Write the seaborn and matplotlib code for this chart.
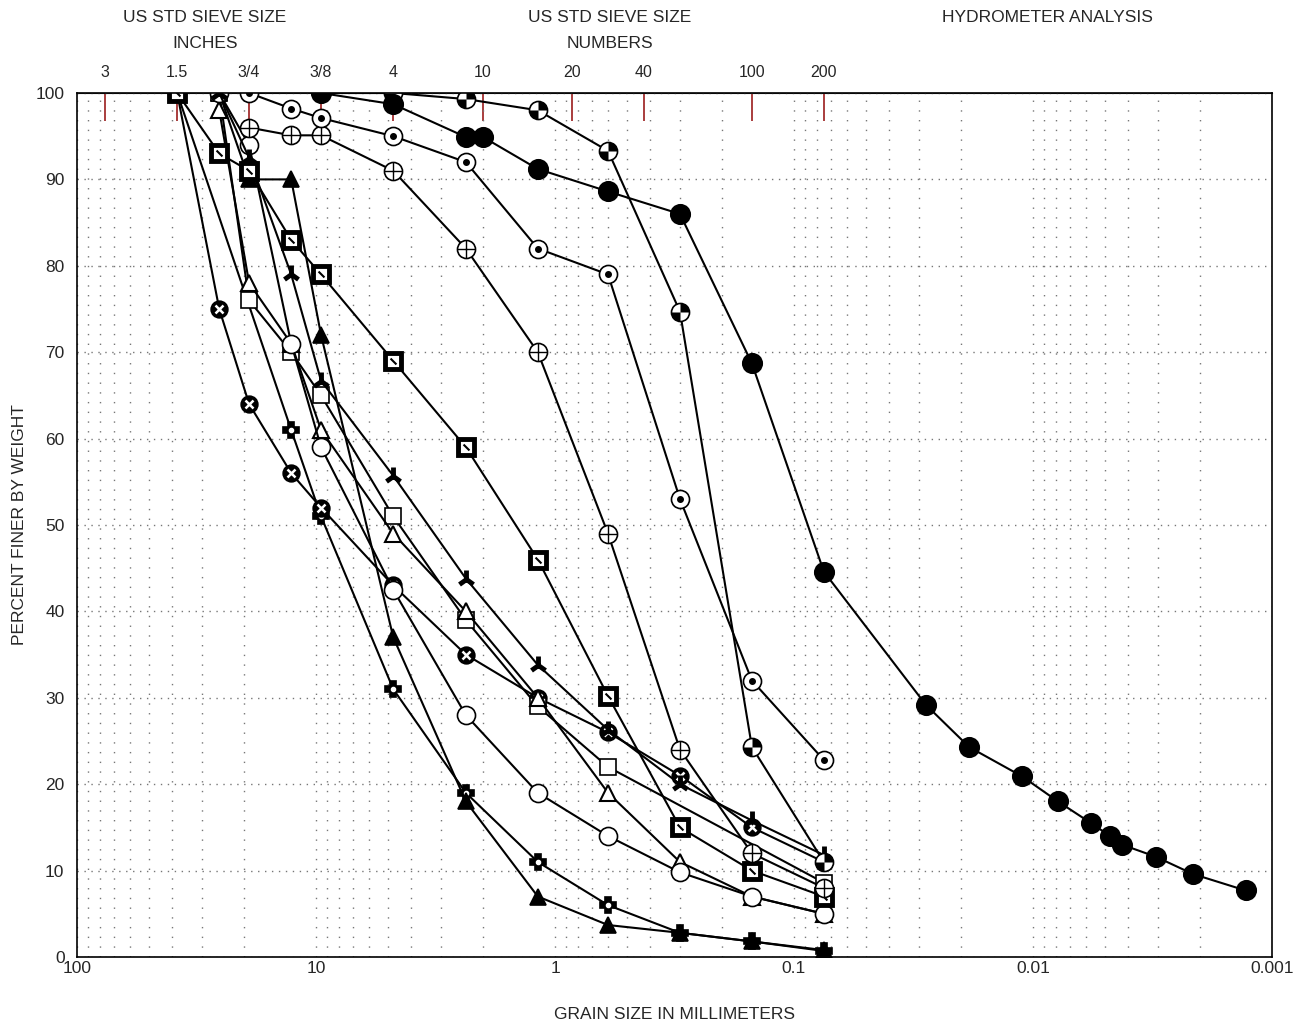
import matplotlib
matplotlib.use('Agg')
import matplotlib.pyplot as plt
from matplotlib.path import Path
from matplotlib.ticker import NullLocator, LogLocator, FixedLocator
import seaborn as sns

# sieve openings (mm) and their labels on the top axis
sieve_mm = [76.2, 38.1, 19.05, 9.525, 4.75, 2.0, 0.85, 0.425, 0.15, 0.075]
sieve_labels = ['3', '1.5', '3/4', '3/8', '4', '10', '20', '40', '100', '200']

x_ticks = [100, 10, 1, 0.1, 0.01, 0.001]
x_tick_labels = ['100', '10', '1', '0.1', '0.01', '0.001']
y_ticks = [0, 10, 20, 30, 40, 50, 60, 70, 80, 90, 100]

# sample data: grain size (mm) / percent finer
# A - filled circle, sieve + hydrometer
a_mm = [9.525, 4.75, 2.36, 2.0, 1.18, 0.6, 0.3, 0.15, 0.075,
        0.0281, 0.0185, 0.0111, 0.00786, 0.00572, 0.00476, 0.00424,
        0.00306, 0.00214, 0.00129]
a_pct = [100, 98.7, 94.9, 94.9, 91.2, 88.6, 86.0, 68.7, 44.6,
         29.2, 24.3, 20.9, 18.0, 15.5, 14.0, 13.0, 11.6, 9.6, 7.7]

# B - checkered circle
b_mm = [9.525, 4.75, 2.36, 1.18, 0.6, 0.3, 0.15, 0.075]
b_pct = [100, 100, 99.3, 98.0, 93.3, 74.7, 24.3, 11.0]

# C - circle with dot
c_mm = [19.05, 12.7, 9.525, 4.75, 2.36, 1.18, 0.6, 0.3, 0.15, 0.075]
c_pct = [100, 98.2, 97.1, 95.0, 92.0, 82.0, 79.0, 53.0, 32.0, 22.8]

# D - circle with cross
d_mm = [19.05, 12.7, 9.525, 4.75, 2.36, 1.18, 0.6, 0.3, 0.15, 0.075]
d_pct = [96.0, 95.1, 95.1, 91.0, 82.0, 70.0, 49.0, 24.0, 12.0, 8.0]

# E - open circle
e_mm = [25.4, 19.05, 12.7, 9.525, 4.75, 2.36, 1.18, 0.6, 0.3, 0.15, 0.075]
e_pct = [100, 94.0, 71.0, 59.0, 42.5, 28.0, 19.0, 14.0, 9.8, 7.0, 5.0]

# F - open triangle
f_mm = [25.4, 19.05, 12.7, 9.525, 4.75, 2.36, 1.18, 0.6, 0.3, 0.15, 0.075]
f_pct = [98.0, 78.0, 71.0, 61.0, 49.0, 40.0, 30.0, 19.0, 11.0, 7.0, 5.0]

# G - open square
g_mm = [25.4, 19.05, 12.7, 9.525, 4.75, 2.36, 1.18, 0.6, 0.075]
g_pct = [100, 76.0, 70.0, 65.0, 51.0, 39.0, 29.0, 22.0, 8.6]

# H - filled triangle
h_mm = [25.4, 19.05, 12.7, 9.525, 4.75, 2.36, 1.18, 0.6, 0.3, 0.15, 0.075]
h_pct = [100, 90.0, 90.0, 72.0, 37.0, 18.0, 7.0, 3.7, 2.8, 1.8, 0.8]

# I - propeller
i_mm = [25.4, 19.05, 12.7, 9.525, 4.75, 2.36, 1.18, 0.6, 0.3, 0.15, 0.075]
i_pct = [100, 92.5, 79.0, 66.7, 55.7, 43.8, 33.8, 26.3, 20.0, 15.8, 11.8]

# J - bold square
j_mm = [38.1, 25.4, 19.05, 12.7, 9.525, 4.75, 2.36, 1.18, 0.6, 0.3, 0.15, 0.075]
j_pct = [100, 93.0, 91.0, 83.0, 79.0, 69.0, 59.0, 46.0, 30.2, 15.0, 10.0, 7.0]

# K - filled circle with cross
k_mm = [38.1, 25.4, 19.05, 12.7, 9.525, 4.75, 2.36, 1.18, 0.6, 0.3, 0.15, 0.075]
k_pct = [100, 75.0, 64.0, 56.0, 52.0, 43.0, 35.0, 30.0, 26.0, 21.0, 15.0, 11.0]

# L - filled plus
l_mm = [38.1, 12.7, 9.525, 4.75, 2.36, 1.18, 0.6, 0.3, 0.15, 0.075]
l_pct = [100, 61.0, 51.0, 31.0, 19.0, 11.0, 6.0, 2.8, 1.8, 0.7]

# checkered circle: two opposite quarters
checker = Path.make_compound_path(Path.wedge(0, 90), Path.wedge(180, 270))

sns.set_style('ticks')
plt.rcParams['font.family'] = ['Liberation Sans', 'DejaVu Sans']

fig = plt.figure(figsize=(13.06, 10.30), dpi=100)
ax = fig.add_axes([77 / 1306, 1 - 957 / 1030, 1195 / 1306, 864 / 1030])
ax.set_xscale('log')

line_kw = dict(color='black', linewidth=1.5, estimator=None, sort=False, ax=ax)


def draw(xs, ys, marker, size, face, mew=1.2):
    sns.lineplot(x=xs, y=ys, marker=marker, markersize=size,
                 markerfacecolor=face, markeredgecolor='black',
                 markeredgewidth=mew, **line_kw)


def deco(xs, ys, marker, size, color, mew=1.0):
    ax.plot(xs, ys, linestyle='none', marker=marker, markersize=size,
            markerfacecolor=color, markeredgecolor=color, markeredgewidth=mew)


draw(l_mm, l_pct, 'P', 12, 'black')
deco(l_mm, l_pct, 'o', 3, 'white')
draw(h_mm, h_pct, '^', 12, 'black')
draw(k_mm, k_pct, 'o', 12, 'black')
deco(k_mm, k_pct, 'x', 6, 'white', 1.8)
draw(g_mm, g_pct, 's', 12, 'white')
draw(f_mm, f_pct, '^', 12, 'white', 1.5)
draw(e_mm, e_pct, 'o', 13, 'white')
draw(i_mm, i_pct, '2', 13, 'black', 3.5)
draw(j_mm, j_pct, 's', 12, 'white', 3.5)
deco(j_mm, j_pct, (2, 0, 45), 6, 'black', 1.5)
draw(d_mm, d_pct, 'o', 13, 'white')
deco(d_mm, d_pct, '+', 13, 'black', 1.0)
draw(c_mm, c_pct, 'o', 13, 'white')
deco(c_mm, c_pct, 'o', 4, 'black')
draw(b_mm, b_pct, 'o', 13, 'white')
deco(b_mm, b_pct, checker, 13, 'black', 0)
draw(a_mm, a_pct, 'o', 14, 'black')

ax.set_xlim(100, 0.001)
ax.set_ylim(0, 100)

dot_v = dict(color='#777777', linestyle=(0, (1, 6)), linewidth=1.0)
ax.xaxis.set_major_locator(FixedLocator(x_ticks))
ax.xaxis.set_minor_locator(LogLocator(base=10, subs=range(2, 10)))
ax.set_xticklabels(x_tick_labels)
ax.set_yticks(y_ticks)
ax.grid(which='both', axis='x', **dot_v)
ax.grid(which='major', axis='y', color='#777777', linestyle=(0, (1, 4)), linewidth=1.0)
ax.set_axisbelow(True)
ax.tick_params(axis='both', which='both', length=0, labelsize=12.5)
ax.tick_params(axis='x', pad=3)
ax.tick_params(axis='y', pad=9)
for s in ax.spines.values():
    s.set_linewidth(1.2)
    s.set_color('black')

top = ax.secondary_xaxis('top')
top.set_xticks(sieve_mm, labels=sieve_labels)
top.xaxis.set_minor_locator(NullLocator())
top.tick_params(direction='in', length=20, width=1.2, color='#9b1c1c', labelsize=11.5, pad=9)

ax.set_xlabel('GRAIN SIZE IN MILLIMETERS', fontsize=12.5, labelpad=22)
ax.set_ylabel('PERCENT FINER BY WEIGHT', fontsize=12.5, labelpad=6)

fig.text(205 / 1306, 1 - 18 / 1030, 'US STD SIEVE SIZE', ha='center', va='center', fontsize=12.5)
fig.text(205 / 1306, 1 - 43 / 1030, 'INCHES', ha='center', va='center', fontsize=12.5)
fig.text(610 / 1306, 1 - 18 / 1030, 'US STD SIEVE SIZE', ha='center', va='center', fontsize=12.5)
fig.text(610 / 1306, 1 - 43 / 1030, 'NUMBERS', ha='center', va='center', fontsize=12.5)
fig.text(1047 / 1306, 1 - 18 / 1030, 'HYDROMETER ANALYSIS', ha='center', va='center', fontsize=12.5)

fig.savefig('out.png', dpi=100)
